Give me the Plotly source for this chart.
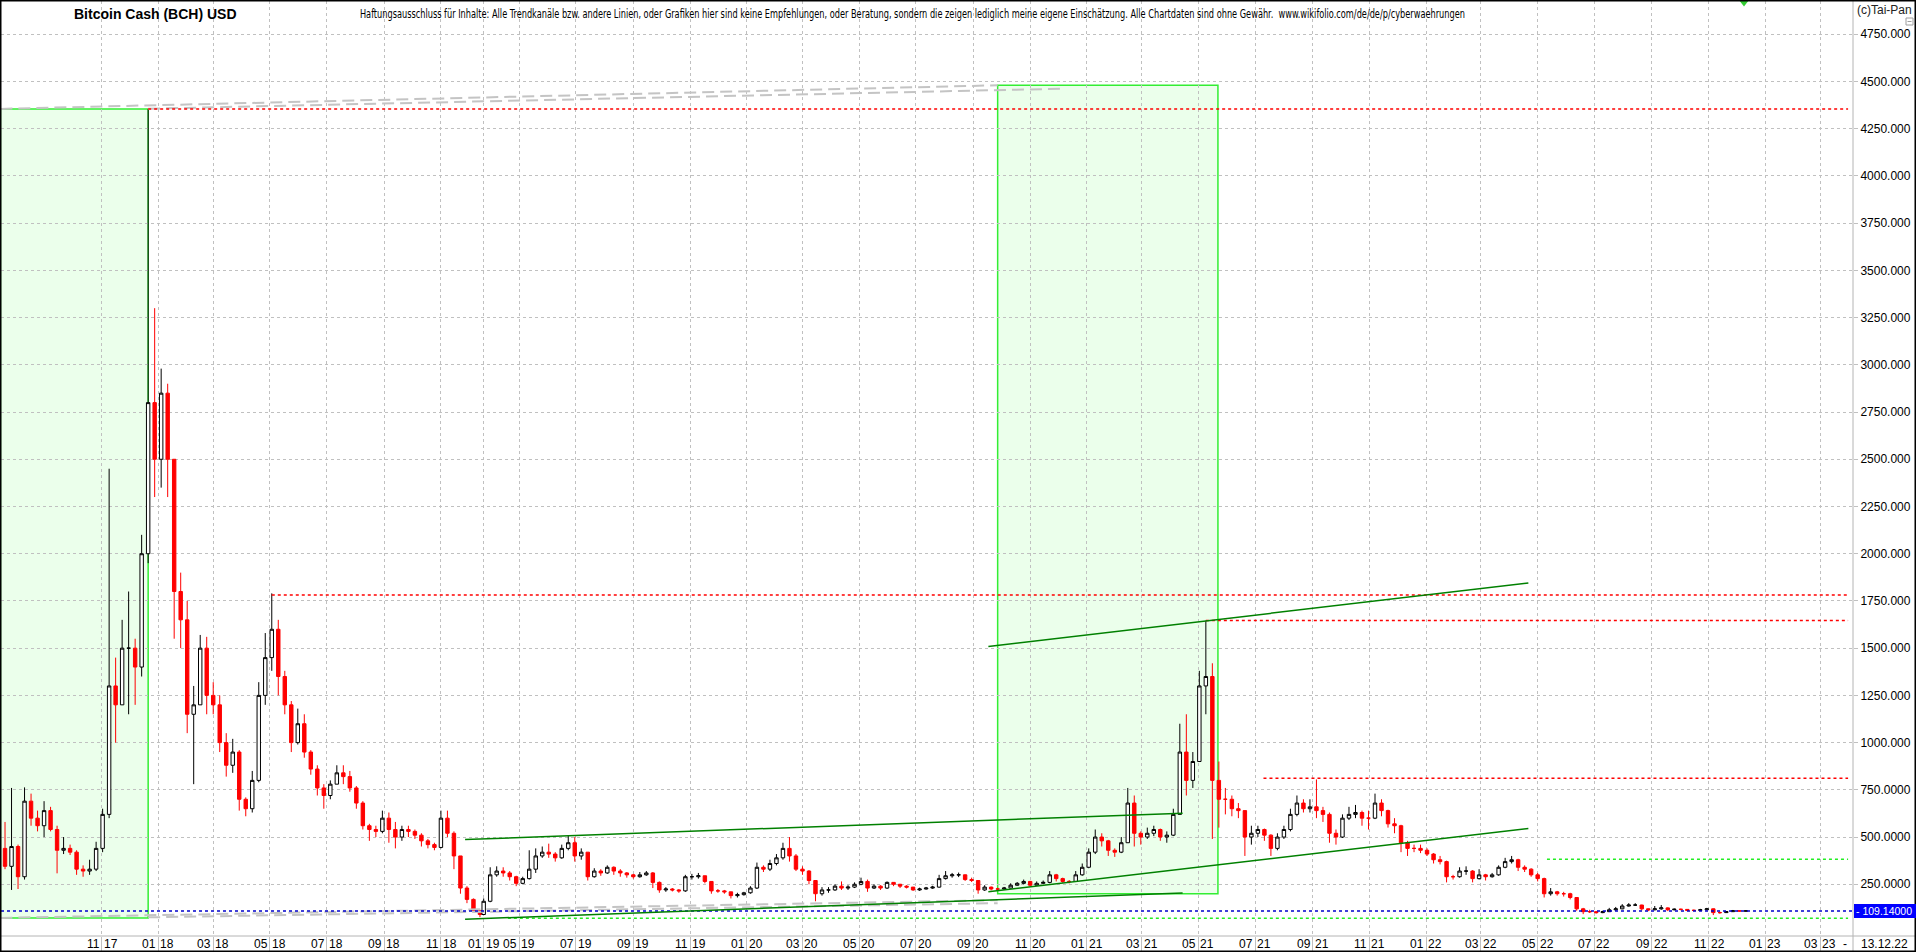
import pandas as pd
import plotly.graph_objects as go

# ---------------- data ----------------
seg1_start = "2017-07-20"          # weekly candles before the data gap
seg2_start = "2019-03-24"          # weekly candles after the data gap
gap_bounds = ["2018-12-16 12:00", "2019-03-23 12:00"]
first_open = 440

seg1_close = [345, 450, 290, 690, 600, 560, 640, 540, 430, 440,
              420, 330, 320, 330, 440, 620, 1300, 1200, 1500, 1500,
              1400, 2000, 2800, 2500, 2850, 2500, 1800, 1650, 1150, 1200,
              1500, 1250, 1200, 1000, 880, 950, 700, 650, 800, 1250,
              1450, 1600, 1350, 1200, 1000, 1100, 950, 860, 760, 720,
              780, 840, 820, 760, 680, 560, 540, 530, 600, 540,
              500, 540, 530, 510, 480, 460, 445, 600, 520, 400,
              230, 170, 110, 90]
seg1_high = [580, 760, 460, 763, 730, 640, 690, 660, 560, 500,
             460, 430, 350, 380, 475, 650, 2450, 1450, 1650, 1800,
             1550, 2100, 4355, 3300, 2980, 2900, 2500, 1900, 1750, 1300,
             1570, 1560, 1320, 1250, 1050, 1020, 960, 710, 850, 1320,
             1580, 1790, 1650, 1380, 1220, 1180, 1150, 960, 880, 780,
             800, 880, 880, 850, 770, 690, 570, 560, 640, 630,
             580, 560, 560, 540, 520, 490, 470, 640, 640, 530,
             400, 240, 175, 115]
seg1_low = [330, 220, 225, 275, 560, 530, 500, 530, 308, 410,
            405, 300, 290, 300, 320, 420, 600, 1000, 1200, 1150,
            1200, 1350, 1950, 2300, 2350, 2300, 1550, 1500, 1050, 780,
            1200, 1150, 1150, 950, 820, 840, 640, 610, 630, 790,
            1200, 1380, 1250, 1150, 950, 990, 920, 830, 720, 650,
            700, 780, 780, 740, 650, 540, 480, 500, 520, 470,
            440, 480, 500, 490, 450, 440, 430, 440, 500, 330,
            200, 150, 100, 76]

seg2_close = [160, 300, 320, 310, 290, 255, 280, 330, 400, 420,
              410, 390, 440, 470, 400, 420, 290, 320, 310, 340,
              320, 310, 300, 290, 300, 310, 260, 220, 225, 220,
              215, 290, 290, 295, 265, 215, 215, 210, 190, 195,
              205,
              230, 340, 330, 360, 390, 440, 400, 330, 320, 270,
              200, 220, 220, 240, 230, 235, 250, 265, 230, 240,
              230, 260, 250, 240, 235, 220, 225, 230, 235, 280,
              295, 300, 300, 275, 270, 220, 235, 225, 225, 230,
              245, 255, 265, 245, 255, 260, 300, 280, 265, 265,
              300, 340,
              420, 500, 480, 430, 420, 470, 680, 520, 500, 520,
              540, 500, 510, 620, 950, 800, 900, 1300, 1350, 800,
              700, 700, 650, 640, 500, 520, 540, 510, 440, 500,
              540, 620, 680, 650, 660, 640, 620, 520, 500, 600,
              620, 630, 600, 600, 680, 640, 570, 560, 470, 440,
              440, 430,
              410, 380, 370, 290, 290, 320, 320, 280, 300, 290,
              300, 340, 370, 380, 340, 330, 300, 280, 200, 210,
              200, 200, 180, 120, 105, 105, 100, 105, 115, 120,
              135, 140, 140, 120, 115, 120, 125, 115, 118, 117,
              112, 112, 115, 120, 100, 100, 105, 110, 108, 109.14]
seg2_high = [175, 340, 345, 340, 320, 295, 290, 430, 440, 450,
             465, 420, 460, 510, 500, 440, 420, 335, 330, 350,
             345, 330, 315, 305, 315, 320, 315, 265, 235, 230,
             225, 300, 305, 310, 295, 265, 225, 220, 210, 205,
             210,
             240, 365, 350, 380, 410, 470, 500, 410, 345, 325,
             270, 235, 235, 250, 265, 245, 260, 285, 275, 250,
             245, 265, 262, 252, 245, 236, 232, 236, 242, 300,
             320, 310, 312, 302, 285, 272, 245, 238, 232, 236,
             255, 262, 275, 268, 265, 270, 320, 305, 285, 272,
             320, 360,
             440, 540, 520, 485, 440, 500, 760, 720, 530, 550,
             560, 545, 530, 650, 1100, 1150, 950, 1380, 1645, 1420,
             900, 760, 720, 680, 640, 560, 560, 545, 515, 520,
             560, 650, 720, 700, 700, 805, 660, 630, 540, 620,
             660, 670, 640, 640, 730, 700, 645, 600, 565, 480,
             460, 460,
             440, 415, 400, 375, 300, 340, 345, 325, 330, 305,
             310, 350, 390, 400, 385, 350, 335, 310, 285, 230,
             215, 210, 205, 182, 125, 115, 108, 110, 125, 130,
             145, 150, 150, 142, 122, 135, 140, 128, 122, 121,
             119, 116, 120, 125, 122, 106, 108, 114, 112, 112]
seg2_low = [88, 155, 290, 290, 270, 240, 250, 275, 310, 390,
            390, 370, 385, 430, 370, 380, 270, 285, 295, 305,
            300, 290, 285, 280, 285, 295, 230, 205, 210, 212,
            205, 210, 275, 280, 255, 200, 205, 200, 175, 180,
            190,
            200, 225, 315, 320, 350, 380, 370, 320, 300, 250,
            160, 190, 205, 215, 220, 220, 230, 245, 210, 225,
            220, 225, 240, 230, 228, 215, 215, 222, 226, 232,
            275, 285, 288, 268, 262, 200, 215, 218, 218, 220,
            228, 242, 250, 238, 242, 250, 255, 265, 258, 255,
            262, 295,
            335, 410, 450, 400, 395, 415, 470, 450, 460, 490,
            505, 480, 470, 505, 620, 720, 760, 900, 1150, 490,
            550, 620, 610, 600, 400, 460, 500, 480, 400, 430,
            490, 530, 610, 630, 630, 600, 580, 470, 460, 495,
            590, 600, 560, 540, 595, 610, 550, 520, 420, 400,
            420, 415,
            400, 360, 355, 260, 275, 285, 300, 260, 275, 270,
            285, 295, 335, 360, 320, 315, 290, 265, 180, 190,
            190, 185, 170, 110, 92, 98, 95, 97, 103, 110,
            118, 132, 135, 112, 108, 112, 115, 108, 112, 112,
            108, 108, 110, 113, 87, 94, 98, 104, 105, 106]

current_price = 109.14
current_date = "13.12.22"
signal_date = "2022-12-09"

# x-axis labels (month | year), placed at the first bar of that month
tick_dates = ["2017-11-01", "2018-01-01", "2018-03-01", "2018-05-01", "2018-07-01",
              "2018-09-01", "2018-11-01", "2019-03-24", "2019-05-01", "2019-07-01",
              "2019-09-01", "2019-11-01", "2020-01-01", "2020-03-01", "2020-05-01",
              "2020-07-01", "2020-09-01", "2020-11-01", "2021-01-01", "2021-03-01",
              "2021-05-01", "2021-07-01", "2021-09-01", "2021-11-01", "2022-01-01",
              "2022-03-01", "2022-05-01", "2022-07-01", "2022-09-01", "2022-11-01",
              "2023-01-01", "2023-03-01"]
tick_labels = ["11 17", "01 18", "03 18", "05 18", "07 18", "09 18", "11 18",
               "01 19", "05 19", "07 19", "09 19", "11 19", "01 20", "03 20",
               "05 20", "07 20", "09 20", "11 20", "01 21", "03 21", "05 21",
               "07 21", "09 21", "11 21", "01 22", "03 22", "05 22", "07 22",
               "09 22", "11 22", "01 23", "03 23"]
y_ticks = [250, 500, 750, 1000, 1250, 1500, 1750, 2000, 2250, 2500, 2750,
           3000, 3250, 3500, 3750, 4000, 4250, 4500, 4750]

# drawn objects
zones = [("2017-07-15", "2017-12-21", 72, 4355),
         ("2020-09-27", "2021-05-22", 200, 4480)]
resist_levels = [4355, 1781, 1647, 811]
resist_starts = ["2017-12-21", "2018-05-03", "2021-05-09", "2021-07-10"]
support_levels = [382, 70]
support_starts = ["2022-05-11", "2019-04-19"]
levels_end = "2023-03-31"
trend_lines = [(("2018-11-27", 487), ("2021-04-14", 626)),
               (("2018-11-27", 65), ("2021-04-14", 204)),
               (("2020-09-17", 1509), ("2022-04-21", 1845)),
               (("2020-09-17", 211), ("2022-04-21", 545))]
grey_lines = [(("2017-07-15", 4355), ("2020-09-27", 4480)),
              (("2017-12-21", 4356), ("2020-12-07", 4462)),
              (("2017-07-15", 72), ("2020-09-27", 166)),
              (("2017-12-21", 75), ("2020-09-27", 150))]

title_text = "Bitcoin Cash (BCH) USD"
disclaimer = ("Haftungsausschluss für Inhalte: Alle Trendkanäle bzw. andere Linien, oder Grafiken "
              "hier sind keine Empfehlungen, oder Beratung, sondern die zeigen lediglich meine eigene "
              "Einschätzung. Alle Chartdaten sind ohne Gewähr.  www.wikifolio.com/de/de/p/cyberwaehrungen")
copyright_text = "(c)Tai-Pan"

# ---------------- build ----------------
dates = list(pd.date_range(seg1_start, periods=len(seg1_close), freq="7D")) + \
        list(pd.date_range(seg2_start, periods=len(seg2_close), freq="7D"))
close = seg1_close + seg2_close
high = seg1_high + seg2_high
low = seg1_low + seg2_low
opens = [first_open] + close[:-1]

W, H = 1916, 952
ML, MR, MT, MB = 1, 63, 1, 16
PW, PH = W - ML - MR, H - MT - MB


def px_x(px):
    return (px - ML) / PW


def px_y(py):
    return (H - MB - py) / PH


FONT = "Liberation Sans, Arial, sans-serif"

fig = go.Figure()
fig.add_trace(go.Candlestick(
    x=dates, open=opens, high=high, low=low, close=close,
    increasing=dict(line=dict(color="#000000", width=1), fillcolor="#ffffff"),
    decreasing=dict(line=dict(color="#ff0000", width=1), fillcolor="#ff0000"),
    whiskerwidth=0, showlegend=False, name="BCH"))
fig.add_trace(go.Scatter(
    x=[signal_date], y=[4926], mode="markers", showlegend=False, hoverinfo="skip",
    marker=dict(symbol="triangle-down", size=11, color="#33cc33"), cliponaxis=True))

shapes = []
for x0, x1, y0, y1 in zones:
    shapes.append(dict(type="rect", xref="x", yref="y", x0=x0, x1=x1, y0=y0, y1=y1,
                       fillcolor="#ebffeb", line=dict(color="#33ee33", width=1.5), layer="below"))
for (a, b) in grey_lines:
    shapes.append(dict(type="line", xref="x", yref="y", x0=a[0], y0=a[1], x1=b[0], y1=b[1],
                       line=dict(color="#c4c4c4", width=2, dash="12px,6px")))
for lv, st in zip(resist_levels, resist_starts):
    shapes.append(dict(type="line", xref="x", yref="y", x0=st, x1=levels_end, y0=lv, y1=lv,
                       line=dict(color="#ff0000", width=1.5, dash="3px,3px")))
for lv, st in zip(support_levels, support_starts):
    shapes.append(dict(type="line", xref="x", yref="y", x0=st, x1=levels_end, y0=lv, y1=lv,
                       line=dict(color="#22ee22", width=1.5, dash="3px,3px")))
shapes.append(dict(type="line", xref="paper", yref="y", x0=0, x1=1, y0=current_price, y1=current_price,
                   line=dict(color="#0000cc", width=1.5, dash="3px,3px")))
for (a, b) in trend_lines:
    shapes.append(dict(type="line", xref="x", yref="y", x0=a[0], y0=a[1], x1=b[0], y1=b[1],
                       line=dict(color="#008000", width=1.5)))

# frame and axis lines
shapes.append(dict(type="line", xref="paper", yref="paper", x0=px_x(0), x1=px_x(W),
                   y0=px_y(936), y1=px_y(936), line=dict(color="#b4b4b4", width=1)))
shapes.append(dict(type="line", xref="paper", yref="paper", x0=px_x(1853), x1=px_x(1853),
                   y0=px_y(0), y1=px_y(H), line=dict(color="#b4b4b4", width=1)))
shapes.append(dict(type="rect", xref="paper", yref="paper", x0=px_x(0), x1=px_x(W),
                   y0=px_y(H), y1=px_y(0), line=dict(color="#000000", width=3)))
# current price label box
shapes.append(dict(type="rect", xref="paper", yref="paper", x0=px_x(1854), x1=px_x(W),
                   y0=px_y(918), y1=px_y(904), fillcolor="#0000ff", line=dict(width=0)))
# small collapse icon
shapes.append(dict(type="rect", xref="paper", yref="paper", x0=px_x(1906), x1=px_x(1913),
                   y0=px_y(25), y1=px_y(18), line=dict(color="#a0a0a0", width=1)))
shapes.append(dict(type="line", xref="paper", yref="paper", x0=px_x(1907.5), x1=px_x(1911.5),
                   y0=px_y(21.5), y1=px_y(21.5), line=dict(color="#a0a0a0", width=1)))

ann = []
for d, lab in zip(tick_dates, tick_labels):
    m, yv = lab.split(" ")
    ann.append(dict(x=d, xref="x", y=px_y(944), yref="paper", text=m, showarrow=False,
                    xanchor="right", yanchor="middle", xshift=-1, borderpad=0,
                    font=dict(family=FONT, size=12, color="#000000")))
    ann.append(dict(x=d, xref="x", y=px_y(944), yref="paper", text=yv, showarrow=False,
                    xanchor="left", yanchor="middle", xshift=1, borderpad=0,
                    font=dict(family=FONT, size=12, color="#000000")))
ann.append(dict(x=px_x(1845), xref="paper", y=px_y(944), yref="paper", text="-", showarrow=False,
                xanchor="center", yanchor="middle", font=dict(family=FONT, size=12, color="#000000")))
ann.append(dict(x=px_x(1884), xref="paper", y=px_y(944), yref="paper", text=current_date,
                showarrow=False, xanchor="center", yanchor="middle",
                font=dict(family=FONT, size=12, color="#000000")))
ann.append(dict(x=px_x(1855), xref="paper", y=px_y(911), yref="paper",
                text="- " + f"{current_price:.5f}", showarrow=False, xanchor="left",
                yanchor="middle", borderpad=0, font=dict(family=FONT, size=10.5, color="#ffffff")))
ann.append(dict(x=px_x(1884), xref="paper", y=px_y(10), yref="paper", text=copyright_text,
                showarrow=False, xanchor="center", yanchor="middle",
                font=dict(family=FONT, size=12, color="#222222")))
ann.append(dict(x=px_x(155.5), xref="paper", y=px_y(14.5), yref="paper", text="<b>" + title_text + "</b>",
                showarrow=False, xanchor="center", yanchor="middle",
                font=dict(family=FONT, size=14, color="#000000")))
ann.append(dict(x=px_x(912.5), xref="paper", y=px_y(14.5), yref="paper", text=disclaimer,
                showarrow=False, xanchor="center", yanchor="middle",
                font=dict(family="Liberation Sans Narrow, DejaVu Sans Condensed, sans-serif",
                          size=11.5, color="#000000")))

y_text = [f"{v:.3f}" if v >= 1000 else f"{v:.4f}" for v in y_ticks]

fig.update_layout(
    width=W, height=H, margin=dict(l=ML, r=MR, t=MT, b=MB, pad=0),
    paper_bgcolor="#ffffff", plot_bgcolor="#ffffff", showlegend=False, boxgap=0.25,
    font=dict(family=FONT, size=12, color="#000000"),
    shapes=shapes, annotations=ann, hovermode="closest")
fig.update_xaxes(
    type="date", range=["2017-07-15 16:00", "2023-04-05 07:00"],
    rangebreaks=[dict(bounds=gap_bounds)], rangeslider=dict(visible=False),
    tickmode="array", tickvals=tick_dates, showticklabels=False,
    ticks="outside", ticklen=16, tickcolor="#c0c0c0", tickwidth=1,
    showgrid=True, gridcolor="#c0c0c0", griddash="3px,3px", gridwidth=1,
    zeroline=False, showline=False)
fig.update_yaxes(
    side="right", range=[-23.8, 4926.2], tickmode="array", tickvals=y_ticks, ticktext=y_text,
    ticks="outside", ticklen=4, tickcolor="#c0c0c0",
    tickfont=dict(family=FONT, size=12, color="#000000"),
    showgrid=True, gridcolor="#c0c0c0", griddash="3px,3px", gridwidth=1,
    zeroline=False, showline=False)

# squeeze the long disclaimer line to the condensed width it has in the reference
post = ("document.body.style.margin='0';document.body.style.overflow='hidden';"
        "document.querySelectorAll('text.annotation-text').forEach(function(t){"
        "if(t.textContent.indexOf('Haftungs')===0){"
        "t.setAttribute('textLength','1105');t.setAttribute('lengthAdjust','spacingAndGlyphs');}});")
fig.write_html("out.html", config={"displayModeBar": False}, post_script=post)
